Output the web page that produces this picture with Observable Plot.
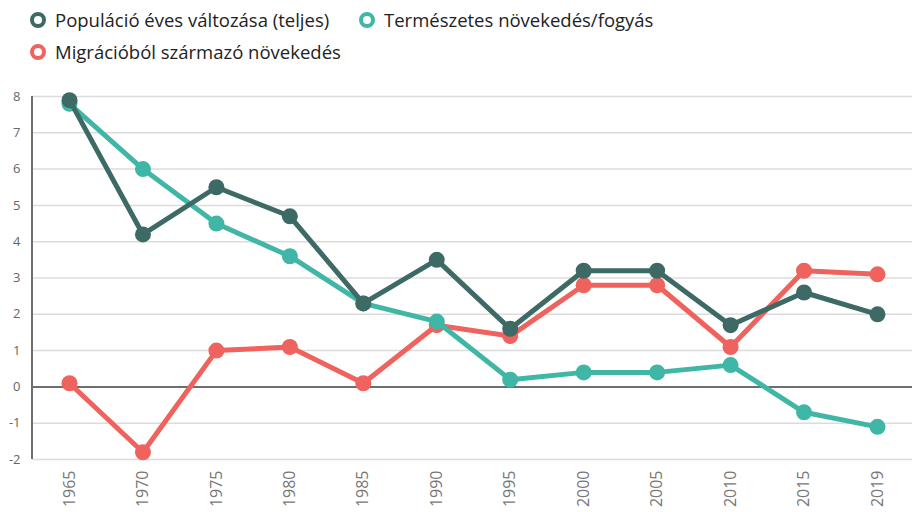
<!DOCTYPE html>
<html><head><meta charset="utf-8">
<script src="https://cdn.jsdelivr.net/npm/d3@7"></script>
<script src="https://cdn.jsdelivr.net/npm/@observablehq/plot@0.6"></script>
<style>
body{margin:0;background:#fff;font-family:"Open Sans",sans-serif;}
#legend{height:80px;position:relative;font-size:18.5px;color:#222;}
.item{position:absolute;display:flex;align-items:center;white-space:nowrap;}
.sw{width:8px;height:8px;border-radius:50%;border:4px solid;margin-right:9px;}
</style></head><body>
<div id="legend"></div>
<div id="chart"></div>
<script>
const years = ["1965","1970","1975","1980","1985","1990","1995","2000","2005","2010","2015","2019"];
const totalChange = [7.9,4.2,5.5,4.7,2.3,3.5,1.6,3.2,3.2,1.7,2.6,2.0];
const naturalChange = [7.8,6.0,4.5,3.6,2.3,1.8,0.2,0.4,0.4,0.6,-0.7,-1.1];
const migrationChange = [0.1,-1.8,1.0,1.1,0.1,1.7,1.4,2.8,2.8,1.1,3.2,3.1];
const seriesNames = ["Populáció éves változása (teljes)","Természetes növekedés/fogyás","Migrációból származó növekedés"];
const seriesColors = ["#3d6a65","#40b7a6","#ef625d"];
const yTicks = [-2,-1,0,1,2,3,4,5,6,7,8];

const legendPos = [[30,7],[359,7],[30,39]];
const leg = document.getElementById("legend");
seriesNames.forEach((n,i)=>{
  const d=document.createElement("div");d.className="item";
  d.style.left=legendPos[i][0]+"px";d.style.top=legendPos[i][1]+"px";
  d.innerHTML=`<span class="sw" style="border-color:${seriesColors[i]}"></span><span>${n}</span>`;
  leg.appendChild(d);
});

const mk = (vals)=>years.map((y,i)=>({year:y,value:vals[i]}));
const drawOrder = [[migrationChange,2],[naturalChange,1],[totalChange,0]];
const marks = [
  Plot.gridY(yTicks,{stroke:"#dcdcdc",strokeOpacity:1,strokeWidth:1.5}),
  Plot.ruleY([0],{stroke:"#6e6e6e",strokeWidth:2}),
  Plot.axisY({ticks:yTicks,tickSize:0,tickPadding:12,fontSize:13,color:"#666",label:null,tickFormat:d=>String(d)}),
  Plot.axisX({tickSize:0,tickRotate:-90,tickPadding:11,fontSize:16,color:"#777",label:null})
];
for(const [vals,ci] of drawOrder){
  marks.push(Plot.line(mk(vals),{x:"year",y:"value",stroke:seriesColors[ci],strokeWidth:5}));
  marks.push(Plot.dot(mk(vals),{x:"year",y:"value",fill:seriesColors[ci],r:8}));
}
const chart = Plot.plot({
  width:912,height:432,marginTop:16,marginBottom:53,marginLeft:32,marginRight:0,
  style:{fontFamily:"Open Sans, sans-serif",background:"#fff"},
  x:{type:"point",domain:years,range:[69,877],padding:0,round:false},
  y:{domain:[-2,8]},
  marks
});
const svg = d3.select(chart);
svg.append("line").attr("x1",32).attr("x2",32).attr("y1",16).attr("y2",379).attr("stroke","#6e6e6e").attr("stroke-width",2);
document.getElementById("chart").appendChild(chart);
</script>
</body></html>
